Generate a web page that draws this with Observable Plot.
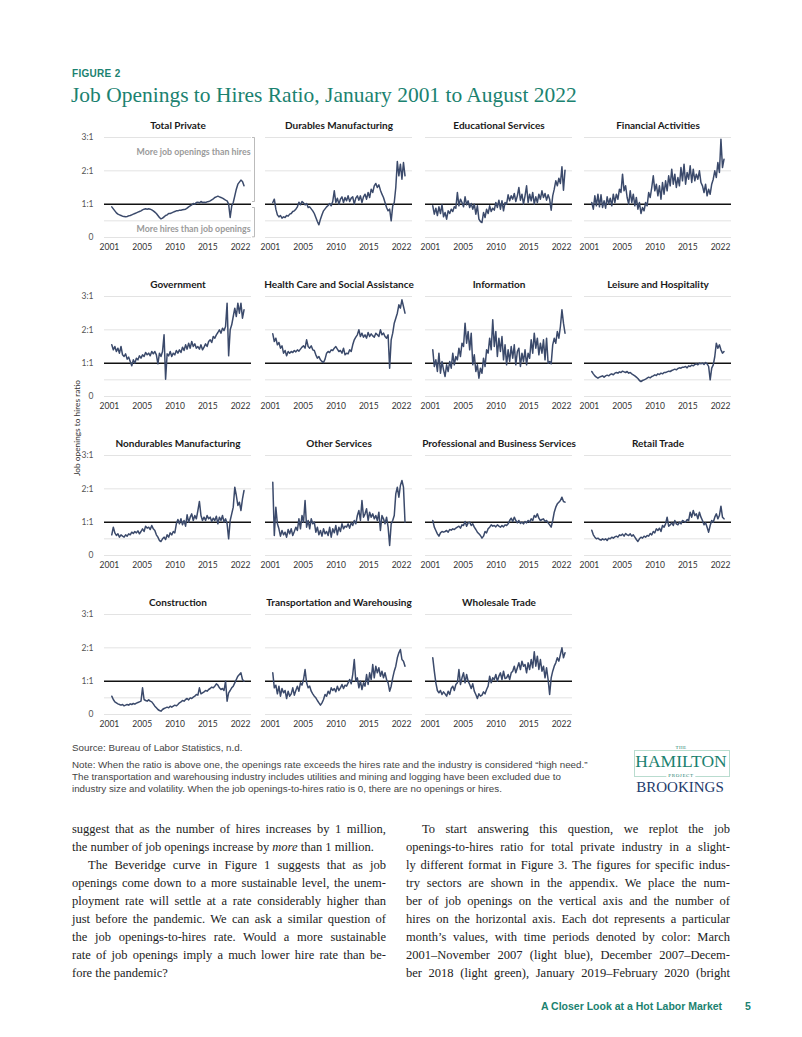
<!DOCTYPE html>
<html><head><meta charset="utf-8">
<script src="https://cdn.jsdelivr.net/npm/d3@7"></script>
<script src="https://cdn.jsdelivr.net/npm/@observablehq/plot@0.6"></script>
<style>
html,body{margin:0;padding:0;background:#fff;}
#page{position:relative;width:802px;height:1037px;overflow:hidden;background:#fff;}
.abs{position:absolute;white-space:nowrap;}
.teal{color:#1b8270;}
.body{font-family:"Liberation Serif","Times New Roman",serif;font-size:12.5px;color:#222;line-height:18px;}
.note{font-family:"Liberation Sans",Arial,sans-serif;font-size:9.8px;color:#444;line-height:12px;}
.logo{font-family:"Liberation Serif",serif;line-height:1;}
</style></head><body><div id="page"></div>
<script>
// ---------- data ----------
const panelTitles = ["Total Private","Durables Manufacturing","Educational Services","Financial Activities",
 "Government","Health Care and Social Assistance","Information","Leisure and Hospitality",
 "Nondurables Manufacturing","Other Services","Professional and Business Services","Retail Trade",
 "Construction","Transportation and Warehousing","Wholesale Trade"];
const yearLabels = ["2001","2005","2010","2015","2022"];
const yTickValues = [0,1,2,3];
const gridValues = [0,0.5,2,3];
const firstYear = 2001; // quarterly values, 2001Q1 .. 2022Q3

const totalPrivate = [0.92,0.86,0.80,0.74, 0.70,0.68,0.66,0.64, 0.63,0.62,0.63,0.65, 0.66,0.68,0.70,0.72, 0.74,0.76,0.78,0.80, 0.83,0.85,0.86,0.85, 0.86,0.85,0.83,0.80, 0.76,0.72,0.66,0.60, 0.56,0.58,0.62,0.66, 0.68,0.72,0.72,0.74, 0.76,0.78,0.80,0.80, 0.82,0.82,0.83,0.84, 0.85,0.88,0.92,0.95, 0.98,1.02,1.00,1.05, 1.06,1.04,1.08,1.05, 1.06,1.05,1.07,1.08, 1.10,1.13,1.16,1.20, 1.22,1.24,1.22,1.20, 1.18,1.15,1.12,1.10, 1.00,0.60,0.95,1.05, 1.25,1.45,1.60,1.66, 1.72,1.68,1.55];
const durables = [1.05,1.15,0.85,0.68, 0.62,0.66,0.58,0.62, 0.60,0.66,0.64,0.70, 0.72,0.78,0.80,0.85, 0.92,1.06,0.98,1.08, 1.04,0.98,1.02,0.90, 0.92,0.86,0.80,0.72, 0.60,0.48,0.38,0.55, 0.68,0.80,0.86,0.92, 0.96,1.02,0.95,1.08, 1.40,1.05,1.18,1.00, 1.15,1.22,1.05,1.20, 1.10,1.25,1.08,1.18, 1.22,1.00,1.18,1.25, 1.12,1.25,1.05,1.22, 1.30,1.15,1.35,1.20, 1.45,1.35,1.55,1.62, 1.50,1.58,1.42,1.30, 1.20,1.05,0.90,0.80, 0.85,0.50,0.95,1.05, 1.50,2.28,1.85,2.20, 1.75,2.25,1.85];
const education = [0.95,0.70,0.88,0.66, 0.92,0.72,0.98,0.62, 0.75,0.55,0.80,0.72, 0.85,0.78,0.92,0.88, 1.35,0.95,1.15,1.05, 0.92,1.22,0.98,1.10, 0.90,1.02,0.85,1.00, 0.70,0.95,0.55,0.48, 0.45,0.75,0.60,0.85, 0.72,0.95,0.78,0.88, 0.82,1.05,0.90,1.12, 0.85,1.10,0.80,1.05, 1.00,1.28,1.10,1.25, 1.15,1.32,1.08,1.25, 1.50,1.12,1.30,1.00, 1.25,1.55,1.05,1.30, 1.10,1.35,1.00,1.22, 1.05,1.30,1.15,1.40, 1.20,1.32,1.12,1.28, 1.15,0.82,1.25,1.45, 1.70,1.55,1.78,1.62, 2.12,1.42,2.02];
const financial = [1.05,0.85,1.25,0.95, 1.30,0.92,1.28,0.90, 1.10,0.88,1.22,1.00, 1.18,0.95,1.30,1.05, 1.30,1.15,1.45,1.35, 1.90,1.40,1.55,1.20, 1.00,1.40,1.05,1.30, 0.95,1.20,0.85,1.05, 0.72,0.90,0.80,1.05, 0.95,1.35,1.20,1.50, 1.85,1.40,1.60,1.25, 1.55,1.15,1.65,1.30, 1.70,1.40,1.85,1.55, 2.05,1.60,1.90,1.50, 1.80,1.55,2.10,1.70, 2.20,1.60,1.95,1.75, 2.15,1.65,2.05,1.70, 1.90,1.75,2.00,1.65, 1.55,1.35,1.60,1.25, 1.45,1.30,1.60,1.75, 2.00,1.80,2.25,1.95, 2.95,2.10,2.35];
const government = [1.55,1.40,1.50,1.35, 1.45,1.30,1.50,1.25, 1.20,1.28,1.12,1.18, 1.05,0.92,1.10,1.00, 1.15,1.10,1.22,1.15, 1.25,1.20,1.32,1.25, 1.30,1.22,1.35,1.28, 1.35,1.25,0.98,1.30, 1.20,1.35,1.85,0.52, 1.28,1.22,1.35,1.20, 1.30,1.25,1.38,1.30, 1.40,1.32,1.48,1.38, 1.55,1.42,1.60,1.45, 1.65,1.50,1.58,1.45, 1.50,1.42,1.55,1.40, 1.48,1.58,1.50,1.65, 1.70,1.62,1.80,1.75, 1.85,1.92,2.00,1.90, 2.05,1.98,2.10,2.80, 1.22,2.00,2.15,2.40, 2.65,2.40,2.80,2.50, 2.80,2.35,2.60];
const healthCare = [1.88,1.65,1.75,1.55, 1.62,1.45,1.52,1.30, 1.38,1.22,1.35,1.30, 1.35,1.32,1.38,1.34, 1.40,1.36,1.42,1.48, 1.52,1.45,1.70,1.50, 1.45,1.52,1.40,1.38, 1.25,1.15,1.20,1.10, 1.05,1.02,1.12,1.30, 1.35,1.32,1.40,1.38, 1.45,1.50,1.42,1.35, 1.38,1.30,1.45,1.25, 1.30,1.28,1.40,1.35, 1.55,1.70,1.78,1.85, 2.00,1.80,1.90,1.78, 1.85,1.75,1.92,1.80, 1.88,1.82,1.78,1.90, 1.85,1.80,2.00,1.85, 1.90,1.80,1.75,1.85, 0.85,1.70,1.90,2.20, 2.35,2.50,2.75,2.65, 2.90,2.70,2.50];
const information = [1.40,0.90,1.10,0.75, 1.30,0.70,1.05,0.80, 0.60,0.95,0.75,1.05, 0.85,1.30,0.95,1.20, 1.10,1.45,1.20,1.60, 1.50,2.20,1.60,1.95, 1.40,1.90,0.95,1.25, 0.75,0.95,0.55,0.85, 0.70,1.15,0.90,1.40, 1.30,1.75,1.40,2.30, 1.50,1.95,1.20,1.75, 1.35,1.80,1.10,1.55, 0.95,1.40,1.05,1.50, 1.15,1.55,0.95,1.35, 1.45,0.90,1.30,1.05, 1.40,0.95,1.30,1.15, 1.70,1.30,1.90,1.45, 1.75,1.25,1.60,1.30, 1.70,1.10,1.75,1.00, 1.05,0.98,1.55,1.75, 1.60,1.95,1.75,2.10, 2.60,2.20,1.90];
const leisure = [0.75,0.68,0.62,0.58, 0.55,0.58,0.60,0.62, 0.58,0.62,0.64,0.62, 0.66,0.68,0.65,0.70, 0.72,0.70,0.74,0.72, 0.76,0.74,0.72,0.75, 0.70,0.72,0.68,0.65, 0.62,0.58,0.54,0.48, 0.45,0.48,0.50,0.52, 0.55,0.58,0.56,0.60, 0.62,0.65,0.63,0.68, 0.66,0.70,0.68,0.72, 0.72,0.74,0.76,0.75, 0.78,0.80,0.82,0.80, 0.84,0.86,0.85,0.88, 0.88,0.90,0.86,0.92, 0.90,0.94,0.92,0.96, 0.98,0.95,1.00,0.98, 1.00,0.96,1.02,0.98, 0.90,0.50,0.85,0.95, 1.20,1.60,1.45,1.55, 1.40,1.30,1.35];
const nondurables = [0.62,0.85,0.68,0.60, 0.65,0.55,0.62,0.58, 0.55,0.62,0.58,0.65, 0.62,0.70,0.66,0.72, 0.68,0.74,0.65,0.72, 0.80,0.72,0.88,0.82, 0.85,0.78,0.90,0.80, 0.75,0.62,0.55,0.45, 0.42,0.50,0.55,0.48, 0.62,0.55,0.68,0.62, 0.72,0.68,0.95,1.08, 0.95,1.10,0.92,1.05, 0.88,1.22,1.00,1.15, 1.25,1.05,1.20,1.10, 1.35,1.62,1.20,1.05, 1.15,1.05,1.20,1.10, 1.15,1.02,1.12,1.05, 1.18,0.95,1.15,1.05, 1.20,1.00,1.10,0.95, 0.50,1.05,1.25,1.45, 2.05,1.80,1.50,1.60, 1.35,1.70,1.95];
const otherServices = [2.20,0.60,1.45,0.95, 0.80,0.58,0.75,0.62, 0.70,0.55,0.78,0.65, 0.80,0.60,0.72,0.85, 0.75,1.10,0.80,1.20, 1.00,1.65,0.85,1.05, 0.80,1.10,0.95,1.00, 0.70,0.85,0.62,0.75, 0.58,0.80,0.65,0.72, 0.60,0.85,0.55,0.80, 0.68,0.90,0.62,0.85, 0.72,0.95,0.80,0.88, 0.85,0.95,0.82,0.98, 0.90,1.05,0.95,1.20, 1.35,1.05,1.65,1.15, 1.25,1.40,1.05,1.30, 1.15,1.25,1.10,1.20, 1.05,1.30,0.75,1.20, 1.10,0.95,1.15,0.85, 0.30,0.95,1.05,1.20, 1.85,2.05,1.75,2.10, 2.25,2.05,1.00];
const professional = [1.05,0.85,0.75,0.65, 0.58,0.68,0.72,0.70, 0.72,0.75,0.70,0.78, 0.76,0.80,0.78,0.82, 0.85,0.88,0.82,0.92, 0.90,1.02,0.88,0.98, 1.00,0.90,0.95,0.85, 0.78,0.70,0.65,0.60, 0.52,0.58,0.72,0.68, 0.80,0.85,0.92,0.88, 0.90,0.86,0.92,0.88, 0.85,0.90,0.86,0.92, 0.90,0.95,1.05,1.12, 1.02,1.15,1.05,0.98, 1.05,0.96,1.00,0.95, 1.02,0.98,1.05,1.00, 1.10,1.05,1.20,1.15, 1.25,1.12,1.05,1.08, 1.10,1.02,1.05,0.98, 0.92,0.85,1.05,1.30, 1.45,1.55,1.60,1.65, 1.75,1.62,1.60];
const retail = [0.76,0.62,0.55,0.50, 0.52,0.48,0.46,0.50, 0.47,0.50,0.45,0.52, 0.50,0.55,0.52,0.56, 0.58,0.55,0.62,0.60, 0.64,0.58,0.66,0.62, 0.60,0.65,0.58,0.62, 0.55,0.48,0.42,0.50, 0.55,0.52,0.58,0.55, 0.60,0.58,0.66,0.62, 0.72,0.68,0.80,0.75, 0.82,0.72,0.90,0.85, 0.95,1.15,0.88,0.92, 0.98,0.90,1.05,0.95, 0.92,1.00,0.95,1.05, 1.02,1.00,1.08,1.05, 1.30,1.15,1.35,1.20, 1.25,1.10,1.30,1.15, 1.05,0.92,0.98,0.85, 0.70,0.90,1.05,1.00, 1.15,1.25,1.10,1.20, 1.48,1.15,1.10];
const construction = [0.55,0.45,0.38,0.35, 0.32,0.30,0.28,0.30, 0.26,0.28,0.30,0.28, 0.32,0.30,0.33,0.31, 0.34,0.36,0.38,0.40, 0.80,0.45,0.42,0.40, 0.44,0.40,0.38,0.32, 0.25,0.20,0.15,0.12, 0.10,0.15,0.18,0.20, 0.22,0.20,0.25,0.22, 0.25,0.28,0.26,0.30, 0.35,0.38,0.42,0.40, 0.45,0.48,0.44,0.50, 0.48,0.52,0.55,0.60, 0.58,0.80,0.62,0.65, 0.68,0.72,0.70,0.75, 0.78,0.82,0.80,0.85, 0.92,0.88,0.80,0.75, 0.78,0.72,1.00,0.40, 0.65,0.72,0.80,0.85, 0.95,1.05,1.15,1.20, 1.25,1.05,1.00];
const transportation = [1.25,0.80,0.88,0.62, 0.85,0.55,0.78,0.65, 0.72,0.48,0.70,0.55, 0.62,0.80,0.58,0.72, 0.85,0.70,0.95,0.88, 1.05,1.35,0.95,0.80, 0.85,0.70,0.62,0.55, 0.50,0.42,0.35,0.28, 0.35,0.45,0.60,0.55, 0.70,0.62,0.80,0.72, 0.78,0.68,0.85,0.72, 0.80,0.90,0.78,0.88, 0.85,0.95,1.05,0.92, 1.20,1.65,1.00,1.10, 0.80,1.00,0.75,0.95, 0.85,1.20,0.90,1.25, 1.05,1.50,1.10,1.45, 1.25,1.40,1.15,1.30, 1.10,1.25,1.05,0.95, 0.70,0.85,1.10,1.30, 1.45,1.70,1.85,1.95, 1.65,1.60,1.45];
const wholesale = [1.70,1.30,0.95,0.72, 0.65,0.72,0.60,0.68, 0.62,0.55,0.70,0.60, 0.78,0.85,0.72,0.90, 0.95,1.35,0.90,1.10, 1.25,0.95,1.20,1.00, 0.90,0.78,0.92,0.70, 0.60,0.48,0.62,0.55, 0.58,0.68,0.62,0.75, 0.85,1.15,0.95,1.10, 1.05,1.20,1.00,1.15, 1.25,1.05,1.30,1.08, 1.10,1.20,1.05,1.25, 1.30,1.45,1.25,1.40, 1.55,1.35,1.60,1.45, 1.50,1.25,1.55,1.35, 1.65,1.40,1.88,1.45, 1.75,1.35,1.65,1.30, 1.45,1.10,1.40,1.05, 0.60,1.10,1.30,1.45, 1.55,1.70,1.60,1.80, 2.00,1.70,1.85];

const seriesList = [totalPrivate,durables,education,financial,government,healthCare,information,leisure,
  nondurables,otherServices,professional,retail,construction,transportation,wholesale];

const annotationTexts = [{label:"More job openings than hires", v:2.56},{label:"More hires than job openings", v:0.26}];
const bracketRanges = [[1.08,3],[0.02,0.9]];

const bodyLeft = [
 {t:"suggest that as the number of hires increases by 1 million,"},
 {t:"the number of job openings increase by <i>more</i> than 1 million.", last:true},
 {t:"The Beveridge curve in Figure 1 suggests that as job", indent:true},
 {t:"openings come down to a more sustainable level, the unem-"},
 {t:"ployment rate will settle at a rate considerably higher than"},
 {t:"just before the pandemic. We can ask a similar question of"},
 {t:"the job openings-to-hires rate. Would a more sustainable"},
 {t:"rate of job openings imply a much lower hire rate than be-"},
 {t:"fore the pandemic?", last:true}
];
const bodyRight = [
 {t:"To start answering this question, we replot the job", indent:true},
 {t:"openings-to-hires ratio for total private industry in a slight-"},
 {t:"ly different format in Figure 3. The figures for specific indus-"},
 {t:"try sectors are shown in the appendix. We place the num-"},
 {t:"ber of job openings on the vertical axis and the number of"},
 {t:"hires on the horizontal axis. Each dot represents a particular"},
 {t:"month’s values, with time periods denoted by color: March"},
 {t:"2001–November 2007 (light blue), December 2007–Decem-"},
 {t:"ber 2018 (light green), January 2019–February 2020 (bright"}
];
const noteLines = [
 "Note: When the ratio is above one, the openings rate exceeds the hires rate and the industry is considered “high need.”",
 "The transportation and warehousing industry includes utilities and mining and logging have been excluded due to",
 "industry size and volatility. When the job openings-to-hires ratio is 0, there are no openings or hires."
];

// ---------- layout ----------
const page = document.getElementById("page");
function addDiv(html, css, cls){
  const d = document.createElement("div");
  d.className = "abs " + (cls||"");
  d.innerHTML = html;
  Object.assign(d.style, css);
  page.appendChild(d);
  return d;
}
function fitWidth(el, target){
  const w = el.getBoundingClientRect().width;
  const fs = parseFloat(getComputedStyle(el).fontSize);
  el.style.fontSize = (fs * target / w) + "px";
}

addDiv("FIGURE 2", {left:"72px", top:"68px", fontFamily:"'Liberation Sans',Arial,sans-serif", fontWeight:"bold", fontSize:"10px", letterSpacing:"0.3px"}, "teal");
const title = addDiv("Job Openings to Hires Ratio, January 2001 to August 2022", {left:"71px", top:"83px", fontFamily:"'Liberation Serif','Times New Roman',serif", fontSize:"22px"}, "teal");
fitWidth(title, 506);

// panels
const xDomain = [1999.9, 2023.8];
const tickPositions = yearLabels.map((_, i) => 2000.7 + i * 5.33);
const labelMap = new Map(tickPositions.map((p, i) => [p, yearLabels[i]]));
const colLeft = [104, 265, 425, 584];
const rowTop = [137, 296, 455, 614];
const mL = 34, mR = 6, mT = 24, mB = 20, pw = 147, ph = 100;

seriesList.forEach((vals, k) => {
  const c = k % 4, r = Math.floor(k / 4);
  const data = vals.map((v, i) => ({t: firstYear + (3 * i + 1) / 12, v}));
  const marks = [
    Plot.ruleY(gridValues, {stroke: "#e3e3e3", strokeWidth: 1}),
    Plot.ruleY([1], {stroke: "#111", strokeWidth: 1.5}),
    Plot.line(data, {x: "t", y: "v", stroke: "#3b4a6b", strokeWidth: 1.5, strokeLinejoin: "round"}),
    Plot.axisX(tickPositions, {tickSize: 0, tickPadding: 6, tickFormat: d => labelMap.get(d), fill: "#333", fontSize: 8.5, label: null}),
    Plot.text([panelTitles[k]], {frameAnchor: "top", lineAnchor: "middle", dy: -12, fontWeight: "bold", fontSize: 10, fill: "#1a1a1a"})
  ];
  if (c === 0) marks.push(Plot.axisY(yTickValues, {tickSize: 0, tickPadding: 11, tickFormat: d => d === 0 ? "0" : d + ":1", fill: "#555", fontSize: 8.5, label: null}));
  if (k === 0) {
    marks.push(Plot.text(annotationTexts, {y: "v", text: "label", frameAnchor: "right", textAnchor: "end", dx: -1, fill: "#9b9b9b", fontWeight: "bold", fontSize: 8.8}));
    marks.push(Plot.link(bracketRanges, {x1: xDomain[1], x2: xDomain[1], y1: d => d[0], y2: d => d[1], dx: 3, stroke: "#aaa", strokeWidth: 0.8}));
    marks.push(Plot.link(bracketRanges.flat(), {x1: xDomain[1] - 0.4, x2: xDomain[1], y1: d => d, y2: d => d, dx: 3, stroke: "#aaa", strokeWidth: 0.8}));
  }
  const svg = Plot.plot({
    width: mL + pw + mR, height: mT + ph + mB,
    marginLeft: mL, marginRight: mR, marginTop: mT, marginBottom: mB,
    x: {domain: xDomain, axis: null, label: null},
    y: {domain: [0, 3], axis: null, label: null},
    style: {fontFamily: "Lato, 'Open Sans', sans-serif", fontSize: "8.5px", background: "transparent", overflow: "visible", color: "#333"},
    marks
  });
  svg.style.position = "absolute";
  svg.style.left = (colLeft[c] - mL) + "px";
  svg.style.top = (rowTop[r] - mT) + "px";
  page.appendChild(svg);
});

// y axis label
addDiv("Job openings to hires ratio", {left:"77px", top:"428px", fontFamily:"Lato, sans-serif", fontSize:"8.3px", color:"#333", lineHeight:"1", transform:"translate(-50%,-50%) rotate(-90deg)"});

// source & note
addDiv("Source: Bureau of Labor Statistics, n.d.", {left:"72px", top:"742px"}, "note");
const n0 = addDiv(noteLines[0], {left:"72px", top:"759px"}, "note");
fitWidth(n0, 516);
const noteFs = n0.style.fontSize;
noteLines.slice(1).forEach((t, i) => addDiv(t, {left:"72px", top:(771 + 12 * i) + "px", fontSize: noteFs}, "note"));

// logo
addDiv("", {left:"634px", top:"750px", width:"94px", height:"25px", border:"1px solid #b9dccf"});
addDiv("THE", {left:"681px", top:"745px", transform:"translateX(-50%)", background:"#fff", padding:"0 2px", fontSize:"5px", letterSpacing:"0.5px"}, "teal logo");
addDiv("HAMILTON", {left:"681px", top:"753px", transform:"translateX(-50%)", fontSize:"17.5px"}, "teal logo");
addDiv("PROJECT", {left:"681px", top:"773px", transform:"translateX(-50%)", background:"#fff", padding:"0 2px", fontSize:"5px", letterSpacing:"0.6px"}, "teal logo");
addDiv("BROOKINGS", {left:"680px", top:"780px", transform:"translateX(-50%)", fontSize:"15px", color:"#1d3a6b"}, "logo");

// body text
function placeColumn(lines, x, w) {
  lines.forEach((ln, i) => {
    const ind = ln.indent ? 16 : 0;
    const d = addDiv(ln.t, {left:(x + ind) + "px", top:(820 + 18 * i) + "px"}, "body");
    if (!ln.last) {
      const nat = d.getBoundingClientRect().width;
      const spaces = (ln.t.replace(/<[^>]+>/g, "").match(/ /g) || []).length;
      if (spaces) d.style.wordSpacing = ((w - ind - nat) / spaces) + "px";
    }
  });
}
placeColumn(bodyLeft, 72, 314);
placeColumn(bodyRight, 406, 324);

// footer
addDiv("A Closer Look at a Hot Labor Market", {left:"541px", top:"1000px", fontFamily:"'Liberation Sans',Arial,sans-serif", fontWeight:"bold", fontSize:"10.5px"}, "teal");
addDiv("5", {left:"745px", top:"1000px", fontFamily:"'Liberation Sans',Arial,sans-serif", fontWeight:"bold", fontSize:"10.5px"}, "teal");
</script>
</body></html>
